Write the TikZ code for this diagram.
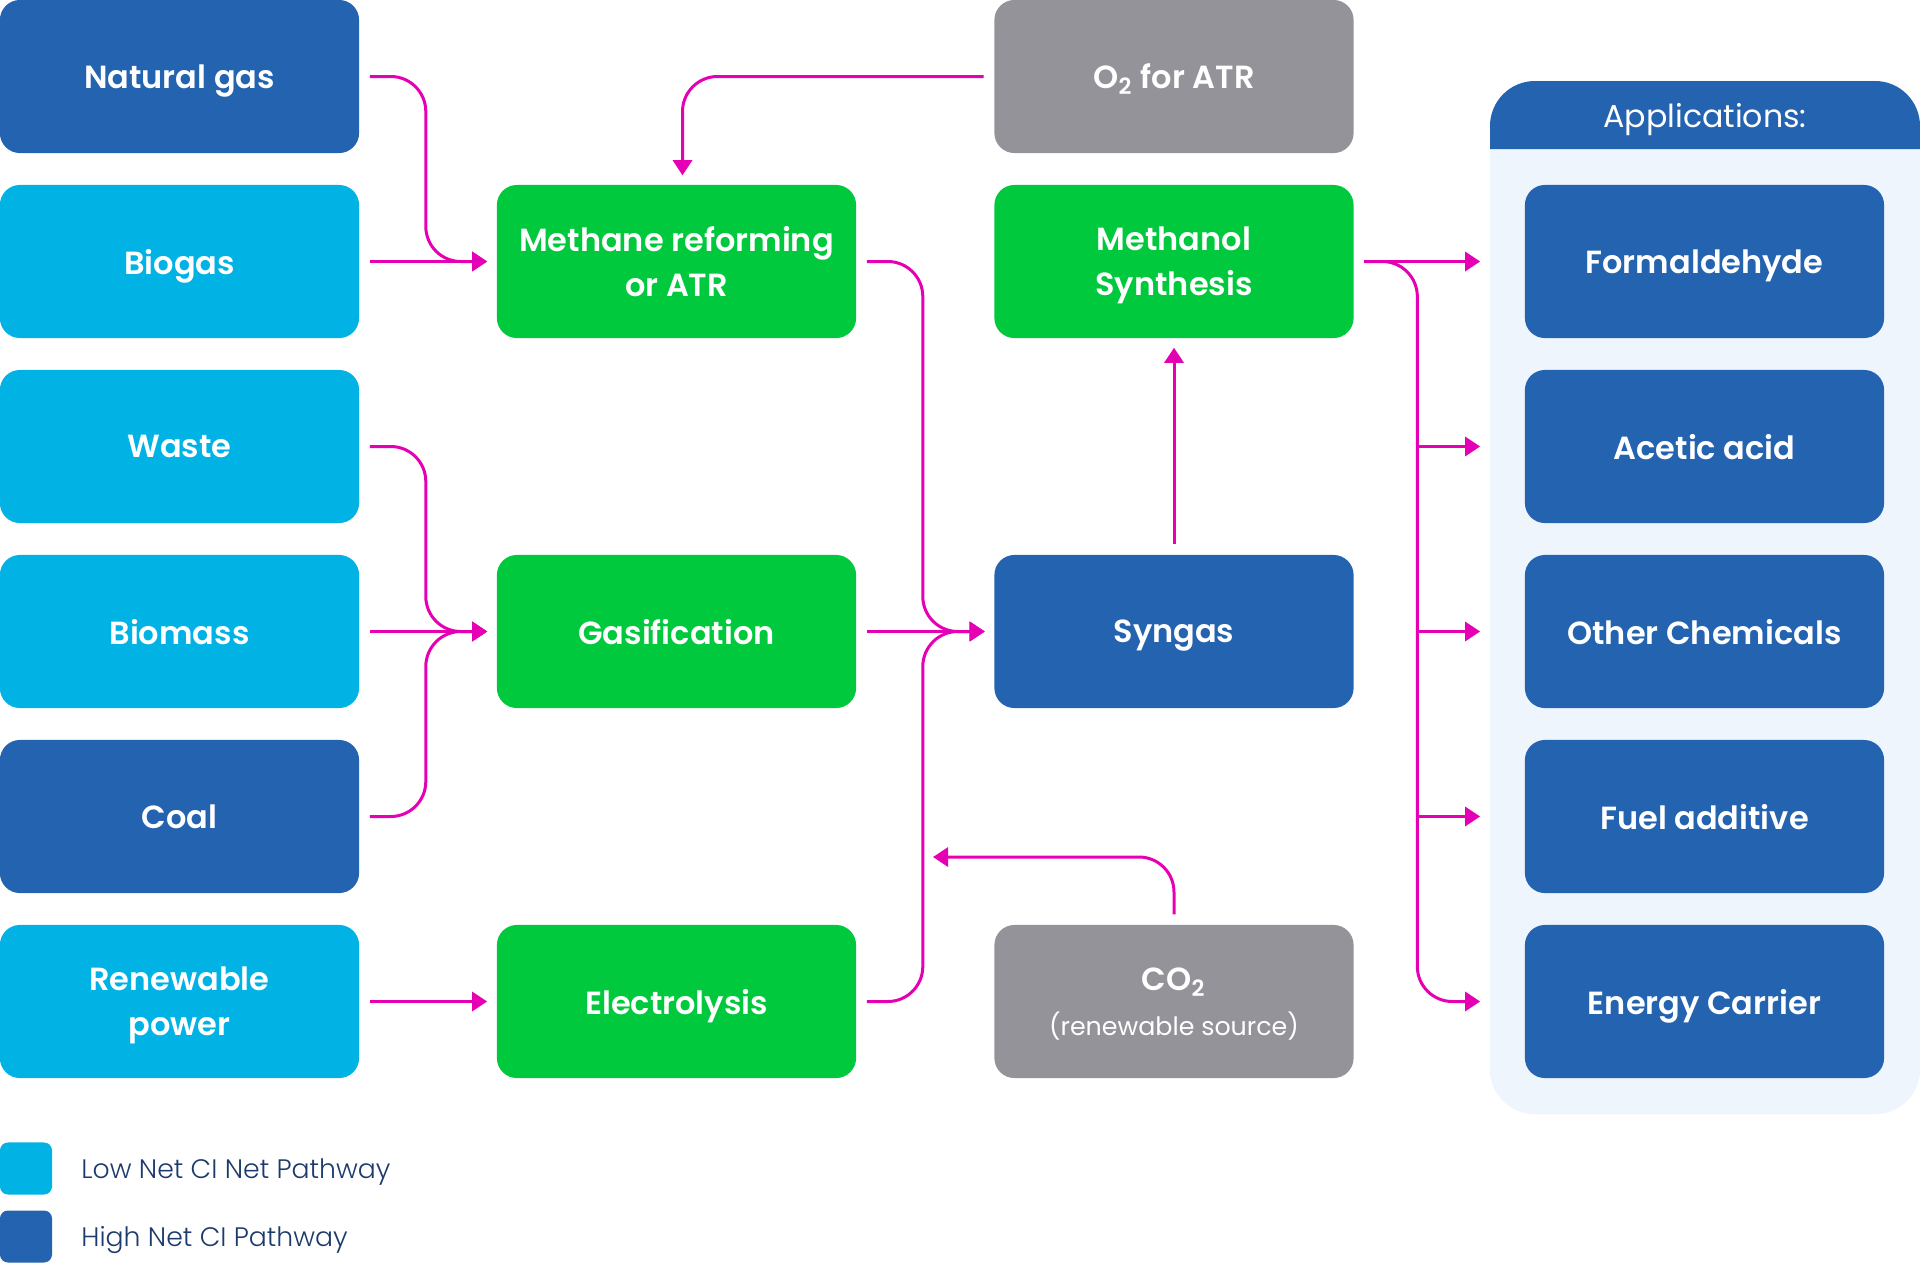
\documentclass[tikz,border=0pt]{standalone}
\usepackage{fontspec}
\setmainfont{Poppins}[BoldFont={Poppins SemiBold}]
\newfontfamily\keyfont{Poppins Light}
\usepackage{tikz}
\usetikzlibrary{arrows.meta,positioning}
\definecolor{cNavy}{RGB}{36,99,176}
\definecolor{cCyan}{RGB}{0,179,228}
\definecolor{cGreen}{RGB}{0,201,61}
\definecolor{cGrey}{RGB}{148,147,153}
\definecolor{cFlow}{RGB}{230,0,180}
\definecolor{cPanel}{RGB}{239,245,252}
\definecolor{cKey}{RGB}{28,58,108}
\begin{document}
\begin{tikzpicture}[x=0.01cm,y=-0.01cm,
  box/.style={rounded corners=0.2cm,minimum width=3.59cm,minimum height=1.53cm,inner sep=0pt,text depth=0pt,align=center,text=white,font=\fontsize{9.1}{12.8}\selectfont\bfseries},
  flow/.style={cFlow,line width=0.03cm,rounded corners=0.35cm,-{Triangle[length=0.15cm,width=0.19cm]},shorten <=0.1cm,shorten >=0.09cm},
  keybox/.style={minimum size=0.52cm,inner sep=0pt,rounded corners=0.08cm},
  keytext/.style={inner sep=0pt,text depth=0pt,text=cKey,font=\fontsize{7.6}{10}\keyfont}]
\useasboundingbox (0,0) rectangle (1920,1263);
\node[box,fill=cNavy] (natgas) at (179.5,76.5) {Natural gas};
\node[box,fill=cCyan] (biogas) at (179.5,261.5) {Biogas};
\node[box,fill=cCyan] (waste) at (179.5,446.5) {Waste};
\node[box,fill=cCyan] (biomass) at (179.5,631.5) {Biomass};
\node[box,fill=cNavy] (coal) at (179.5,816.5) {Coal};
\node[box,fill=cCyan] (renew) at (179.5,1001.5) {Renewable\\power};
\node[box,fill=cGreen] (methane) at (676.5,261.5) {Methane reforming\\or ATR};
\node[box,fill=cGreen] (gasif) at (676.5,631.5) {Gasification};
\node[box,fill=cGreen] (electro) at (676.5,1001.5) {Electrolysis};
\node[box,fill=cGrey] (otwo) at (1174,76.5) {O\textsubscript{2} for ATR};
\node[box,fill=cGreen] (methanol) at (1174,261.5) {Methanol\\Synthesis};
\node[box,fill=cNavy] (syngas) at (1174,631.5) {Syngas};
\node[box,fill=cGrey] (cotwo) at (1174,1001.5) {CO\textsubscript{2}\\{\mdseries\fontsize{7.2}{10}\selectfont(renewable source)}};
\node[fill=cPanel,rounded corners=0.45cm,minimum width=4.3cm,minimum height=10.33cm,inner sep=0pt] (apps) at (1705,597.5) {};
\fill[cNavy] (1490,149) [rounded corners=0.45cm] -- (1490,81) -- (1920,81) [sharp corners] -- (1920,149) -- cycle;
\node[text=white,text depth=0pt,font=\fontsize{9}{11}\selectfont] (appshead) at (1705,115) {Applications:};
\node[box,fill=cNavy] (formal) at (1704.5,261.5) {Formaldehyde};
\node[box,fill=cNavy] (acetic) at (1704.5,446.5) {Acetic acid};
\node[box,fill=cNavy] (chem) at (1704.5,631.5) {Other Chemicals};
\node[box,fill=cNavy] (fuel) at (1704.5,816.5) {Fuel additive};
\node[box,fill=cNavy] (energy) at (1704.5,1001.5) {Energy Carrier};
\node[keybox,fill=cCyan] (keylow) at (26,1168.5) {};
\node[keytext,right=0.28cm of keylow] (keylowtext) {Low Net CI Net Pathway};
\node[keybox,fill=cNavy] (keyhigh) at (26,1236.5) {};
\node[keytext,right=0.28cm of keyhigh] (keyhightext) {High Net CI Pathway};
\coordinate (split) at ([xshift=0.63cm]methanol.east);
\coordinate (cotwoback) at (933,857);
\draw[flow] (natgas.east) -- ++(66,0) |- (methane.west);
\draw[flow] (biogas.east) -- (methane.west);
\draw[flow] (waste.east) -- ++(66,0) |- (gasif.west);
\draw[flow] (biomass.east) -- (gasif.west);
\draw[flow] (coal.east) -- ++(66,0) |- (gasif.west);
\draw[flow] (renew.east) -- (electro.west);
\draw[flow] (otwo.west) -| ([xshift=0.06cm]methane.north);
\draw[flow] (methane.east) -- ++(66,0) |- (syngas.west);
\draw[flow] (gasif.east) -- (syngas.west);
\draw[flow] (electro.east) -- ++(66,0) |- (syngas.west);
\draw[flow,shorten >=0pt] (cotwo.north) |- (cotwoback);
\draw[flow] (syngas.north) -- (methanol.south);
\draw[flow] (methanol.east) -- (formal.west -| apps.west);
\draw[flow] (methanol.east) -- (split) |- (energy.west -| apps.west);
\draw[flow,shorten <=0pt] (split |- acetic.west) -- (acetic.west -| apps.west);
\draw[flow,shorten <=0pt] (split |- chem.west) -- (chem.west -| apps.west);
\draw[flow,shorten <=0pt] (split |- fuel.west) -- (fuel.west -| apps.west);
\end{tikzpicture}
\end{document}
